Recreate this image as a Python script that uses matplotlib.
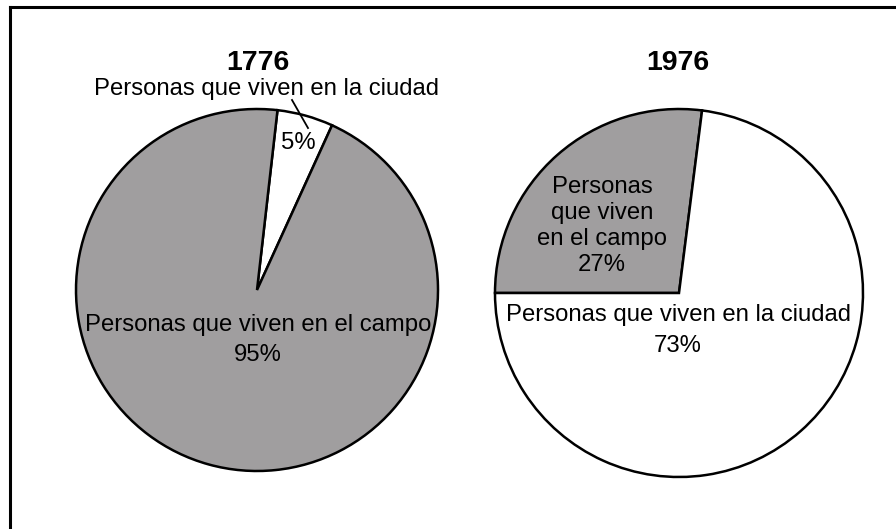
import matplotlib
matplotlib.use("Agg")
import matplotlib.pyplot as plt
from matplotlib.lines import Line2D

plt.rcParams['font.family'] = ['Liberation Sans', 'DejaVu Sans']

# Data
years = ["1776", "1976"]
labels_1776 = ["Personas que viven en la ciudad", "Personas que viven en el campo"]
values_1776 = [5, 95]
labels_1976 = ["Personas\nque viven\nen el campo", "Personas que viven en la ciudad"]
values_1976 = [27, 73]

GRAY = '#a09e9f'
W, H = 896, 529

fig = plt.figure(figsize=(W / 100, H / 100), dpi=100)
ax = fig.add_axes([0, 0, 1, 1])

def Y(y):
    return H - y

wp = dict(edgecolor='black', linewidth=1.8)

# Left pie (1776)
c1 = (257, Y(290)); r1 = 181
ax.pie(values_1776, colors=['white', GRAY], startangle=83.5, counterclock=False,
       center=c1, radius=r1, wedgeprops=wp)

# Right pie (1976)
c2 = (679, Y(293)); r2 = 184
ax.pie(values_1976, colors=[GRAY, 'white'], startangle=180, counterclock=False,
       center=c2, radius=r2, wedgeprops=wp)

ax.set_xlim(0, W)
ax.set_ylim(0, H)
ax.set_aspect('auto')
ax.axis('off')

fs = 17.2
# Titles
ax.text(258, Y(63), years[0], ha='center', va='center', fontsize=20.5, fontweight='bold')
ax.text(678, Y(63), years[1], ha='center', va='center', fontsize=20.5, fontweight='bold')

# 1776 labels
ax.text(266, Y(89), labels_1776[0], ha='center', va='center', fontsize=fs)
ax.text(298, Y(143), f"{values_1776[0]}%", ha='center', va='center', fontsize=fs)
ax.plot([292, 308], [Y(100), Y(128)], color='black', lw=1.3)
ax.text(258, Y(325), labels_1776[1], ha='center', va='center', fontsize=fs)
ax.text(258, Y(355), f"{values_1776[1]}%", ha='center', va='center', fontsize=fs)

# 1976 labels
ax.text(602, Y(226), f"{labels_1976[0]}\n{values_1976[0]}%", ha='center', va='center',
        fontsize=fs, linespacing=1.22)
ax.text(678, Y(315), labels_1976[1], ha='center', va='center', fontsize=fs)
ax.text(678, Y(346), f"{values_1976[1]}%", ha='center', va='center', fontsize=fs)

# Frame (top and left only visible)
fig.add_artist(Line2D([10 / W, 1], [1 - 7 / H, 1 - 7 / H], transform=fig.transFigure,
                      color='black', lw=2.2))
fig.add_artist(Line2D([10 / W, 10 / W], [0, 1 - 7 / H], transform=fig.transFigure,
                      color='black', lw=2.2))

fig.savefig("out.png", dpi=100)
